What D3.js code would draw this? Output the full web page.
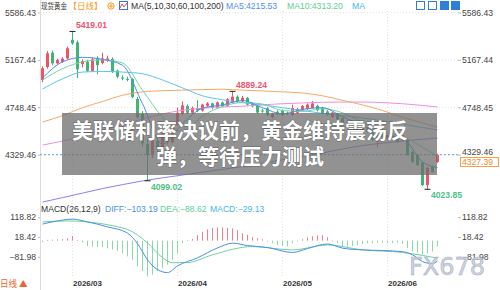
<!DOCTYPE html>
<html>
<head>
<meta charset="utf-8">
<script src="https://cdn.jsdelivr.net/npm/d3@7"></script>
<style>
  body { margin: 0; background: #fff; }
  svg { display: block; font-family: "Liberation Sans", Arial, sans-serif; }
</style>
</head>
<body>
<svg id="chart" width="500" height="290"></svg>
<script>
// trading days shown on the chart
const dates = [
  "2026-02-20","2026-02-23","2026-02-24","2026-02-25","2026-02-26","2026-02-27",
  "2026-03-02","2026-03-03","2026-03-04","2026-03-05","2026-03-06","2026-03-09","2026-03-10",
  "2026-03-11","2026-03-12","2026-03-13","2026-03-16","2026-03-17","2026-03-18","2026-03-19",
  "2026-03-20","2026-03-23","2026-03-24","2026-03-25","2026-03-26","2026-03-27","2026-03-30",
  "2026-04-01","2026-04-02","2026-04-06","2026-04-07","2026-04-08","2026-04-09","2026-04-10",
  "2026-04-13","2026-04-14","2026-04-15","2026-04-16","2026-04-17","2026-04-20","2026-04-21",
  "2026-04-22","2026-04-23","2026-04-24","2026-04-27","2026-04-28","2026-04-29","2026-04-30",
  "2026-05-01","2026-05-04","2026-05-05","2026-05-06","2026-05-07","2026-05-08","2026-05-11",
  "2026-05-12","2026-05-13","2026-05-14","2026-05-15","2026-05-18","2026-05-19","2026-05-20",
  "2026-05-21","2026-05-22","2026-05-25","2026-05-26","2026-05-27","2026-05-28","2026-05-29",
  "2026-06-01","2026-06-02","2026-06-03","2026-06-04","2026-06-05","2026-06-08","2026-06-09",
  "2026-06-10","2026-06-11","2026-06-12","2026-06-15"
];
const openP = [4990,5105,5231,5137,5150,5181,5345,5323,5130,5152,5070,5185,5140,5166,5175,5072,5012,5000,4998,4822,
  4690,4425,4330,4450,4380,4510,4440,4595,4690,4760,4700,4742,4720,4762,4783,4742,4792,4760,4790,4842,
  4800,4832,4780,4760,4720,4740,4660,4710,4720,4700,4680,4700,4722,4732,4742,4762,4742,4712,4662,4692,
  4652,4592,4612,4582,4522,4560,4522,4442,4500,4470,4500,4486,4459,4459,4353,4327,4256,4061,4221,4265];
const highP = [5110,5245,5250,5178,5192,5285,5419.01,5340,5172,5170,5190,5200,5231,5205,5190,5082,5032,5020,5006,4840,
  4715,4470,4478,4470,4535,4525,4610,4745,4800,4775,4755,4810,4780,4795,4790,4800,4800,4830,4889.24,4855,
  4850,4840,4795,4770,4735,4752,4700,4722,4730,4712,4772,4745,4770,4782,4805,4772,4752,4725,4710,4700,
  4662,4632,4620,4592,4575,4572,4532,4522,4512,4512,4510,4495,4512,4468,4362,4340,4265,4222,4232,4338];
const lowP = [4970,5090,5120,5125,5140,5170,5300,5007,5100,5060,5062,5040,5128,5150,5052,5005,4988,4978,4828,4650,
  4400,4099.02,4300,4350,4365,4420,4430,4585,4680,4690,4690,4705,4710,4750,4730,4735,4750,4752,4782,4790,
  4790,4765,4748,4690,4700,4670,4650,4680,4670,4680,4672,4690,4715,4725,4735,4712,4688,4672,4650,4632,
  4600,4585,4562,4540,4512,4522,4452,4397,4470,4462,4462,4435,4450,4320,4255,4230,4052,4023.85,4170,4258];
const closeP = [5093,5226,5137,5166,5178,5270,5314,5084,5158,5070,5172,5122,5180,5180,5063,5019,5003,4992,4840,4662,
  4430,4330,4460,4380,4520,4440,4600,4700,4765,4700,4742,4720,4772,4783,4742,4792,4760,4820,4842,4800,
  4832,4772,4758,4702,4712,4682,4692,4690,4682,4692,4742,4732,4760,4772,4782,4722,4692,4682,4702,4642,
  4612,4622,4572,4552,4565,4530,4460,4503,4480,4500,4470,4442,4503,4327,4265,4239,4061,4212,4177,4327.39];

// moving averages at every 4th candle
const maIdx = [0,4,8,12,16,20,24,28,32,36,40,44,48,52,56,60,64,68,72,76,79];
const ma5   = [5007,5150,5190,5172,5120,4780,4424,4605,4740,4770,4808,4745,4690,4730,4745,4665,4590,4505,4478,4265,4215.53];
const ma10  = [4990,5090,5150,5168,5140,4900,4662,4530,4672,4755,4790,4778,4720,4712,4735,4700,4615,4535,4490,4395,4313.20];
const ma30  = [4910,5000,5060,5065,5060,5045,4990,4920,4850,4815,4790,4770,4745,4720,4695,4675,4655,4630,4600,4570,4548];
const ma60  = [4618,4675,4745,4800,4855,4885,4895,4900,4905,4908,4900,4893,4885,4875,4850,4810,4770,4720,4660,4610,4574];
const ma100 = [4415,4450,4495,4545,4595,4645,4690,4722,4740,4751,4758,4770,4780,4787,4793,4795,4795,4790,4780,4765,4751];
const ma200 = [3911,3950,3990,4030,4065,4098,4125,4150,4175,4200,4225,4255,4285,4315,4345,4380,4410,4432,4450,4466,4477];

// MACD(26,12,9)
const diffIdx  = [0,3,6,9,13,17,19,21,23,25,27,31,35,38,41,45,50,53,57,60,64,68,72,74,76,78,79];
const diffVals = [84,100,109,95,70,38,-15,-97,-147,-162,-128,-87,-37,-13,-25,-35,-60,-40,-17,-38,-47,-50,-56,-72,-106,-117,-103.19];
const deaIdx   = [0,5,10,14,18,21,24,26,29,34,42,50,57,64,72,76,79];
const deaVals  = [95,100,92,76,45,-12,-86,-112,-111,-72,-30,-47,-22,-47,-60,-75,-88.62];
const macdHist = [-8,4,5,6,8,12,23,3,-10,-28,-30,-31,-34,-39,-45,-52,-64,-80,-97,-130,
  -155,-181,-172,-155,-139,-122,-97,-64,-13,3,8,28,45,57,65,67,67,65,62,54,
  37,30,17,12,7,-5,-13,-22,-27,-30,-13,-5,7,17,23,27,27,17,-5,-13,
  -27,-30,-27,-22,-17,-13,-13,-10,-10,-13,-13,-10,-17,-38,-55,-60,-72,-64,-55,-29.13];

const priceTicks = [5586.43, 5167.44, 4748.45, 4329.46];
const macdTicks = [118.82, 18.42, -81.98];
const monthDates = ["2026-03-02","2026-04-01","2026-05-01","2026-06-01"];
const monthLabels = ["2026/03","2026/04","2026/05","2026/06"];
const markIdx = [6, 38, 21, 77];
const markKind = ["high","high","low","low"];
const lastPrice = 4327.39;
const refPrice = 4329.46;

const UP = "#ef5366", DOWN = "#3db574";
const CJK = "'Noto Sans CJK SC', sans-serif";

const svg = d3.select("#chart");
const x = d3.scalePoint().domain(dates).range([42.5, 437.5]);
const y = d3.scaleLinear().domain([4329.46, 5586.43]).range([154.7, 12.5]);
const ym = d3.scaleLinear().domain([-81.98, 118.82]).range([256.8, 217.2]);
const xi = i => x(dates[i]);

const defs = svg.append("defs");
defs.append("clipPath").attr("id", "clipMain")
  .append("rect").attr("x", 40).attr("y", 11).attr("width", 418).attr("height", 193);
defs.append("clipPath").attr("id", "clipMacd")
  .append("rect").attr("x", 40).attr("y", 213).attr("width", 418).attr("height", 65);

// grid
svg.append("g").selectAll("line").data(priceTicks).join("line")
  .attr("x1", 40).attr("x2", 458).attr("y1", d => y(d)).attr("y2", d => y(d))
  .attr("stroke", "#e4e4e4").attr("stroke-dasharray", "1,2");
svg.append("g").selectAll("line").data(monthDates).join("line")
  .attr("x1", d => x(d)).attr("x2", d => x(d)).attr("y1", 11).attr("y2", 278)
  .attr("stroke", "#e4e4e4").attr("stroke-dasharray", "1,2");
svg.append("line").attr("x1", 40.5).attr("x2", 40.5).attr("y1", 0).attr("y2", 290).attr("stroke", "#dcdcdc");

// left / right price axes
const axL = svg.append("g").attr("transform", "translate(40,0)")
  .call(d3.axisLeft(y).tickValues(priceTicks).tickFormat(d3.format(".2f")).tickSize(2).tickPadding(2));
const axR = svg.append("g").attr("transform", "translate(458,0)")
  .call(d3.axisRight(y).tickValues(priceTicks).tickFormat(d3.format(".2f")).tickSize(3).tickPadding(1));
const axLm = svg.append("g").attr("transform", "translate(40,0)")
  .call(d3.axisLeft(ym).tickValues(macdTicks).tickFormat(d3.format(".2f")).tickSize(2).tickPadding(2));
const axRm = svg.append("g").attr("transform", "translate(458,0)")
  .call(d3.axisRight(ym).tickValues(macdTicks).tickFormat(d3.format(".2f")).tickSize(3).tickPadding(1));
[axL, axR, axLm, axRm].forEach(g => {
  g.select(".domain").remove();
  g.selectAll("line").attr("stroke", "#bbb");
  g.selectAll("text").attr("fill", "#444").attr("font-size", 8.6)
    .attr("font-family", "'Liberation Sans', Arial, sans-serif");
});
axR.selectAll(".tick").filter(d => d === refPrice).select("text").attr("dy", "-0.05em");

// main panel
const main = svg.append("g").attr("clip-path", "url(#clipMain)");

main.append("line").attr("x1", 40).attr("x2", 458)
  .attr("y1", y(refPrice)).attr("y2", y(refPrice))
  .attr("stroke", "#5d9ff0").attr("stroke-dasharray", "2,2");

const cand = main.append("g").selectAll("g").data(dates).join("g");
cand.append("line")
  .attr("x1", (d, i) => xi(i)).attr("x2", (d, i) => xi(i))
  .attr("y1", (d, i) => y(highP[i])).attr("y2", (d, i) => y(lowP[i]))
  .attr("stroke", (d, i) => closeP[i] >= openP[i] ? UP : DOWN);
cand.append("rect")
  .attr("x", (d, i) => xi(i) - 1.5).attr("width", 3)
  .attr("y", (d, i) => y(Math.max(openP[i], closeP[i])))
  .attr("height", (d, i) => Math.max(1, Math.abs(y(openP[i]) - y(closeP[i]))))
  .attr("fill", (d, i) => closeP[i] >= openP[i] ? UP : DOWN);

const maLine = d3.line().x(d => xi(d[0])).y(d => y(d[1])).curve(d3.curveMonotoneX);
const maSeries = [
  [ma200, "#8c80f2"], [ma100, "#ef8fdf"], [ma60, "#f7a867"],
  [ma30, "#5ec3ee"], [ma10, "#72d6a2"], [ma5, "#4a8ef0"]
];
maSeries.forEach(([vals, col]) => {
  main.append("path").datum(maIdx.map((k, j) => [k, vals[j]]))
    .attr("d", maLine).attr("fill", "none").attr("stroke", col).attr("stroke-width", 1);
});

// extreme markers
markIdx.forEach((k, j) => {
  const isHigh = markKind[j] === "high";
  const v = isHigh ? highP[k] : lowP[k];
  const yy = y(v);
  svg.append("line").attr("x1", xi(k) - 3).attr("x2", xi(k) + 3)
    .attr("y1", yy).attr("y2", yy).attr("stroke", "#222");
  svg.append("text").attr("x", xi(k) + 3.5).attr("y", isHigh ? yy - 3 : yy + 9)
    .attr("font-size", 8.6).attr("font-weight", "bold")
    .attr("fill", isHigh ? "#ef5570" : "#4fbf86")
    .text(d3.format(".2f")(v));
});

// MACD panel
const mac = svg.append("g").attr("clip-path", "url(#clipMacd)");
mac.append("g").selectAll("line").data(macdHist).join("line")
  .attr("x1", (d, i) => xi(i)).attr("x2", (d, i) => xi(i))
  .attr("y1", ym(0)).attr("y2", d => ym(d))
  .attr("stroke", d => d >= 0 ? "#f27d8c" : "#8bd8ad").attr("stroke-width", 1);
const mLine = d3.line().x(d => xi(d[0])).y(d => ym(d[1])).curve(d3.curveMonotoneX);
mac.append("path").datum(deaIdx.map((k, j) => [k, deaVals[j]]))
  .attr("d", mLine).attr("fill", "none").attr("stroke", "#6fd29c");
mac.append("path").datum(diffIdx.map((k, j) => [k, diffVals[j]]))
  .attr("d", mLine).attr("fill", "none").attr("stroke", "#4a90e8");

// month labels
svg.append("g").selectAll("text").data(monthDates).join("text")
  .attr("x", d => x(d) + 0.5).attr("y", 285.5)
  .attr("font-size", 8).attr("font-weight", "bold").attr("fill", "#333")
  .text((d, i) => monthLabels[i]);

// last price tag
svg.append("rect").attr("x", 460.5).attr("y", 157.5).attr("width", 38).attr("height", 9)
  .attr("fill", "#fff").attr("stroke", "#f5a04a");
svg.append("text").attr("x", 462).attr("y", 165).attr("font-size", 8.6).attr("fill", "#f08a24")
  .text(d3.format(".2f")(lastPrice));

// header
const hdr = svg.append("g").attr("font-size", 8.6);
hdr.append("text").attr("x", 41).attr("y", 9).attr("fill", "#333").attr("font-family", CJK)
  .attr("font-size", 7.6).attr("textLength", 26).attr("lengthAdjust", "spacingAndGlyphs").text("现货黄金");
hdr.append("text").attr("x", 68.5).attr("y", 9).attr("fill", "#f39a1c").attr("font-family", CJK)
  .attr("font-size", 8.4).attr("textLength", 34).attr("lengthAdjust", "spacingAndGlyphs").text("【日线】");
hdr.append("circle").attr("cx", 111).attr("cy", 6).attr("r", 3.2).attr("fill", "none").attr("stroke", "#f39a1c");
hdr.append("path").attr("d", "M109 6H113M111 4V8").attr("stroke", "#f39a1c");
hdr.append("rect").attr("x", 119.5).attr("y", 1.5).attr("width", 8).attr("height", 8)
  .attr("fill", "#fff").attr("stroke", "#3a78d8");
hdr.append("path").attr("d", "M120 8L122 4L124 7L127 3").attr("fill", "none").attr("stroke", "#e84a5f");
hdr.append("text").attr("x", 131).attr("y", 9).attr("fill", "#333").text("MA(5,10,30,60,100,200)");
hdr.append("text").attr("x", 226).attr("y", 9).attr("fill", "#4e8ff0").text("MA5:" + d3.format(".2f")(ma5[ma5.length - 1]));
hdr.append("text").attr("x", 287).attr("y", 9).attr("fill", "#5ccf95").text("MA10:" + d3.format(".2f")(ma10[ma10.length - 1]));
hdr.append("text").attr("x", 352).attr("y", 9).attr("fill", "#45b4e8").text("MA");
[[416, false], [428, false], [440, true], [451, true]].forEach(([ix, filled]) => {
  hdr.append("rect").attr("x", ix + 0.5).attr("y", 1.5).attr("width", 8).attr("height", 8)
    .attr("fill", filled ? "#2f7fd8" : "#fff").attr("stroke", "#2f7fd8");
});

// MACD title
const mt = svg.append("g").attr("font-size", 8.6);
mt.append("text").attr("x", 41).attr("y", 212).attr("fill", "#333").text("MACD(26,12,9)");
mt.append("text").attr("x", 105).attr("y", 212).attr("fill", "#4a90e8").text("DIFF:" + d3.format(".2f")(diffVals[diffVals.length - 1]));
mt.append("text").attr("x", 160).attr("y", 212).attr("fill", "#5ccf95").text("DEA:" + d3.format(".2f")(deaVals[deaVals.length - 1]));
mt.append("text").attr("x", 210).attr("y", 212).attr("fill", "#45b4e8").text("MACD:" + d3.format(".2f")(macdHist[macdHist.length - 1]));

svg.append("text").attr("x", 0).attr("y", 287).attr("font-size", 8.6).attr("fill", "#f0642d")
  .attr("font-family", CJK).text("日线 ▲");

// headline banner
svg.append("rect").attr("x", 62).attr("y", 113).attr("width", 375).attr("height", 62)
  .attr("fill", "rgb(110,110,110)").attr("fill-opacity", 0.75);
const ban = svg.append("g").attr("font-family", CJK).attr("font-size", 21).attr("font-weight", "bold")
  .attr("fill", "#fff").attr("text-anchor", "middle")
  .attr("stroke", "rgba(60,60,60,0.6)").attr("stroke-width", 0.8).attr("paint-order", "stroke");
ban.append("text").attr("x", 240).attr("y", 138).text("美联储利率决议前，黄金维持震荡反");
ban.append("text").attr("x", 240).attr("y", 164).text("弹，等待压力测试");

// watermark
svg.append("text").attr("x", 409).attr("y", 275).attr("font-size", 24)
  .attr("font-family", "'DejaVu Sans', sans-serif")
  .attr("fill", "#c8ced8").attr("fill-opacity", 0.85)
  .attr("stroke", "#a7b0bf").attr("stroke-width", 0.6).text("FX678");
</script>
</body>
</html>
